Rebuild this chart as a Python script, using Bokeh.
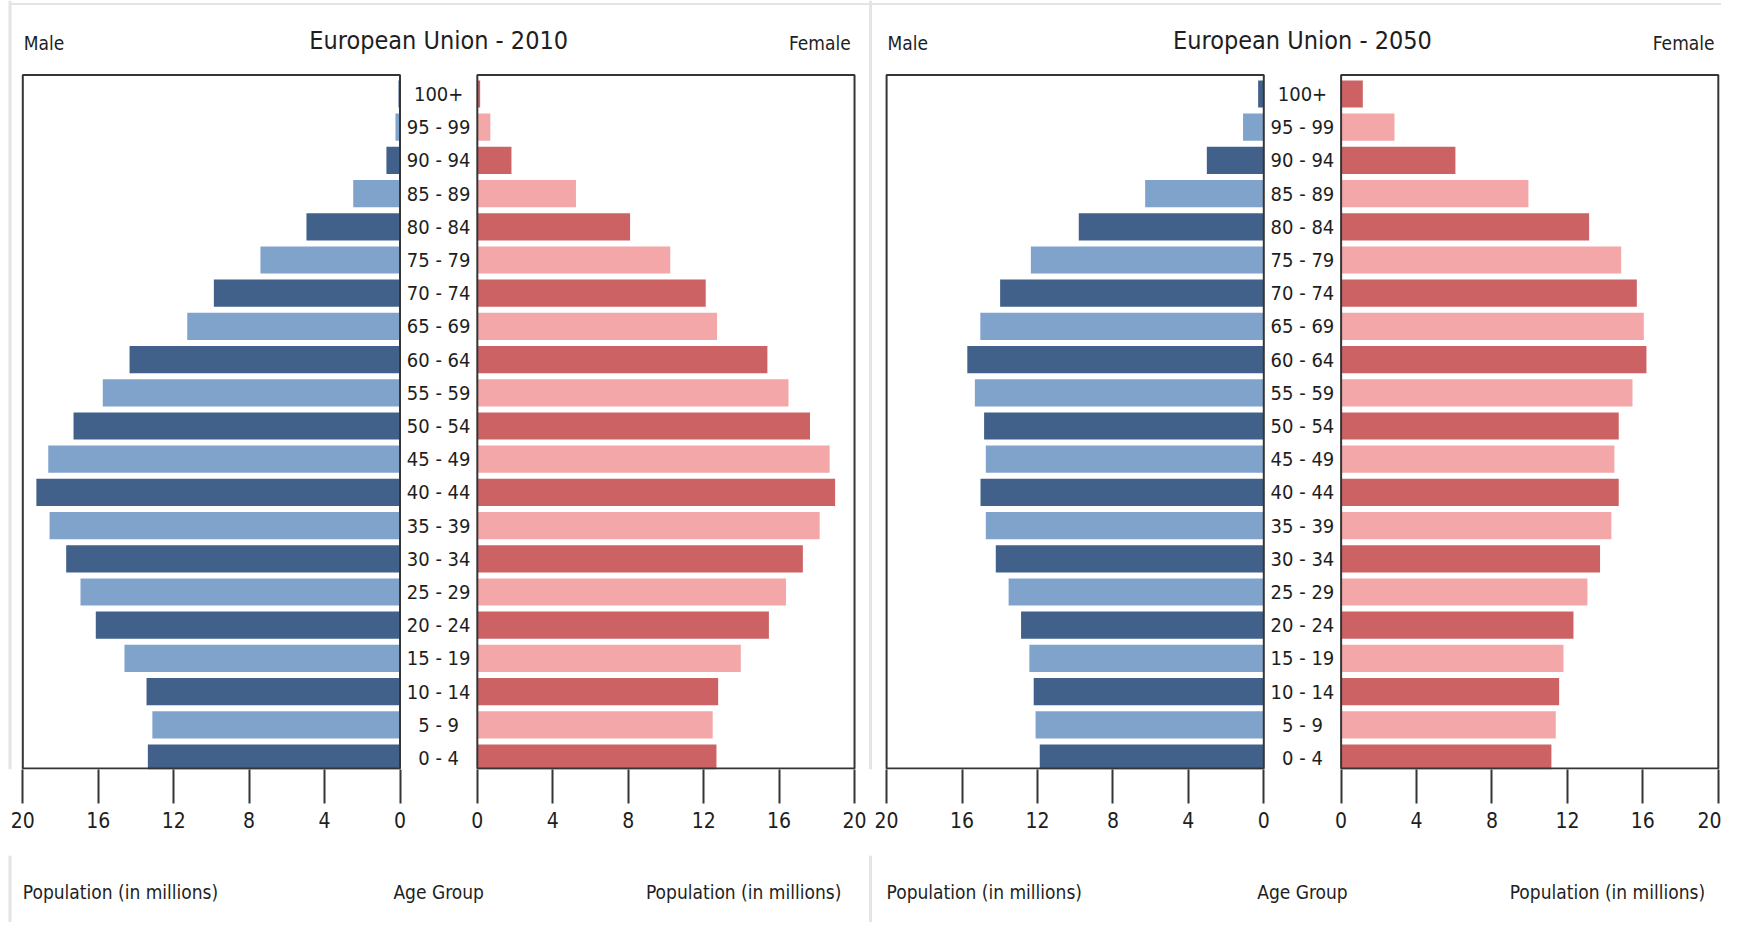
from bokeh.plotting import figure
from bokeh.layouts import column
from bokeh.models import (Range1d, FixedTicker, CustomJSTickFormatter,
                          ColumnDataSource)
from bokeh.core.properties import value
from bokeh.embed import file_html
from bokeh.resources import INLINE

# ---------------- data ----------------
age_groups = ["0 - 4", "5 - 9", "10 - 14", "15 - 19", "20 - 24", "25 - 29",
              "30 - 34", "35 - 39", "40 - 44", "45 - 49", "50 - 54", "55 - 59",
              "60 - 64", "65 - 69", "70 - 74", "75 - 79", "80 - 84", "85 - 89",
              "90 - 94", "95 - 99", "100+"]

male_2010 = [13.37, 13.13, 13.44, 14.61, 16.13, 16.94, 17.70, 18.58, 19.28,
             18.65, 17.31, 15.76, 14.34, 11.28, 9.87, 7.40, 4.96, 2.48, 0.72,
             0.24, 0.08]
female_2010 = [12.68, 12.48, 12.77, 13.97, 15.46, 16.37, 17.26, 18.15, 18.97,
               18.68, 17.64, 16.50, 15.38, 12.71, 12.11, 10.23, 8.10, 5.23,
               1.81, 0.69, 0.15]

male_2050 = [11.88, 12.10, 12.20, 12.43, 12.87, 13.53, 14.21, 14.74, 15.02,
             14.74, 14.83, 15.32, 15.72, 15.03, 13.98, 12.35, 9.81, 6.29,
             3.02, 1.10, 0.30]
female_2050 = [11.15, 11.38, 11.56, 11.79, 12.32, 13.06, 13.73, 14.33, 14.72,
               14.49, 14.72, 15.45, 16.19, 16.05, 15.68, 14.85, 13.15, 9.93,
               6.06, 2.83, 1.15]

panel_titles = ["European Union - 2010", "European Union - 2050"]
axis_ticks = [0, 4, 8, 12, 16, 20]
x_max = 20

# ---------------- styling / layout ----------------
FONT = "DejaVu Sans Condensed, DejaVu Sans, sans-serif"
TXT = "#1e1e1e"
FRAME = "#353535"
SEP = "#e4e4e4"
MALE_DARK, MALE_LIGHT = "#41618b", "#80a3cc"
FEMALE_DARK, FEMALE_LIGHT = "#cc6264", "#f3a7a9"

W = 1721
FRAME_H = 769          # plot frame height (axis line position)
H1 = 855               # main figure height (frame + tick area)
H2 = 67                # strip with the axis titles
GAP = 4.1              # width of age-label column (data units)
PANEL = 45.8           # offset between the two pyramids (data units)
UNIT_PX = 18.86
X0 = -399.5 / UNIT_PX
ROW_PX = 33.2
Y0 = -0.346
BAR_H = 0.82
AX_Y = Y0 + 0.03
BOX_TOP = 20.57
Y_END = Y0 + FRAME_H / ROW_PX

xr = Range1d(X0, X0 + W / UNIT_PX)
p = figure(width=W, height=H1, x_range=xr, y_range=Range1d(Y0, Y_END),
           y_axis_location=None, toolbar_location=None, output_backend="svg",
           min_border_left=0, min_border_right=0, min_border_top=0,
           min_border_bottom=H1 - FRAME_H)
p.outline_line_color = None
p.xgrid.grid_line_color = None
p.ygrid.grid_line_color = None
p.background_fill_color = "white"
p.border_fill_color = "white"

rows = list(range(len(age_groups)))
n = len(rows)
m_colors = [MALE_DARK if i % 2 == 0 else MALE_LIGHT for i in rows]
f_colors = [FEMALE_DARK if i % 2 == 0 else FEMALE_LIGHT for i in rows]

# faint container borders
sep_x = [9.5 / UNIT_PX + X0, 870 / UNIT_PX + X0]
for sx in sep_x:
    p.segment(x0=[sx], y0=[Y0], x1=[sx], y1=[Y_END],
              line_color=SEP, line_width=3)
p.segment(x0=[sep_x[0]], y0=[Y_END - 3.5 / ROW_PX], x1=[xr.end],
          y1=[Y_END - 3.5 / ROW_PX], line_color=SEP, line_width=2)

tick_pos, tick_lab = [], []
titles_below = []
for k, (males, females) in enumerate([(male_2010, female_2010),
                                      (male_2050, female_2050)]):
    off = k * PANEL
    msrc = ColumnDataSource(dict(y=rows, left=[off - v for v in males],
                                 right=[off] * n, color=m_colors))
    fsrc = ColumnDataSource(dict(y=rows, left=[off + GAP] * n,
                                 right=[off + GAP + v for v in females],
                                 color=f_colors))
    p.hbar(y="y", left="left", right="right", height=BAR_H,
           fill_color="color", line_color=None, source=msrc)
    p.hbar(y="y", left="left", right="right", height=BAR_H,
           fill_color="color", line_color=None, source=fsrc)

    # frames
    p.quad(left=[off - x_max, off + GAP], right=[off, off + GAP + x_max],
           top=[BOX_TOP] * 2, bottom=[AX_Y] * 2, fill_color=None,
           line_color=FRAME, line_width=2)

    # age labels
    p.text(x=[off + GAP / 2] * n, y=rows, text=age_groups,
           text_font=value(FONT), text_font_size="20px", text_color=TXT,
           text_align="center", text_baseline="middle")

    # headings
    p.text(x=[off + GAP / 2], y=[21.61], text=[panel_titles[k]],
           text_font=value(FONT), text_font_size="25px", text_color=TXT,
           text_align="center", text_baseline="middle")
    p.text(x=[off - x_max + 0.05], y=[21.55], text=["Male"],
           text_font=value(FONT), text_font_size="19px", text_color=TXT,
           text_align="left", text_baseline="middle")
    p.text(x=[off + GAP + x_max - 0.2], y=[21.55], text=["Female"],
           text_font=value(FONT), text_font_size="19px", text_color=TXT,
           text_align="right", text_baseline="middle")

    for t in axis_ticks:
        tick_pos.append(off - t)
        tick_lab.append(str(t))
    for t in axis_ticks:
        tick_pos.append(off + GAP + t)
        tick_lab.append(str(t))

    titles_below += [(off - x_max, "Population (in millions)", "left"),
                     (off + GAP / 2, "Age Group", "center"),
                     (off + GAP + x_max - 0.7, "Population (in millions)", "right")]

ax = p.xaxis[0]
ax.ticker = FixedTicker(ticks=tick_pos, minor_ticks=[])
ax.formatter = CustomJSTickFormatter(args=dict(pos=tick_pos, lab=tick_lab), code="""
for (let i = 0; i < pos.length; i++) {
  if (Math.abs(pos[i] - tick) < 1e-6) { return lab[i]; }
}
return "";
""")
ax.axis_line_color = None
ax.major_tick_in = 0
ax.major_tick_out = 34
ax.major_tick_line_color = FRAME
ax.major_tick_line_width = 2
ax.minor_tick_line_color = None
ax.major_label_standoff = 8
ax.major_label_text_font = FONT
ax.major_label_text_font_size = "21px"
ax.major_label_text_color = TXT

# strip with the axis titles
p2 = figure(width=W, height=H2, x_range=xr, y_range=Range1d(0, H2),
            x_axis_location=None, y_axis_location=None, toolbar_location=None,
            output_backend="svg", min_border_left=0, min_border_right=0,
            min_border_top=0, min_border_bottom=0)
p2.outline_line_color = None
p2.xgrid.grid_line_color = None
p2.ygrid.grid_line_color = None
for sx in sep_x:
    p2.segment(x0=[sx], y0=[0], x1=[sx], y1=[H2], line_color=SEP, line_width=3)
for x, txt, al in titles_below:
    p2.text(x=[x], y=[H2 - 36], text=[txt], text_font=value(FONT),
            text_font_size="19px", text_color=TXT, text_align=al,
            text_baseline="middle")

layout = column(p, p2, spacing=0)
open("out.html", "w").write(file_html(layout, INLINE))
